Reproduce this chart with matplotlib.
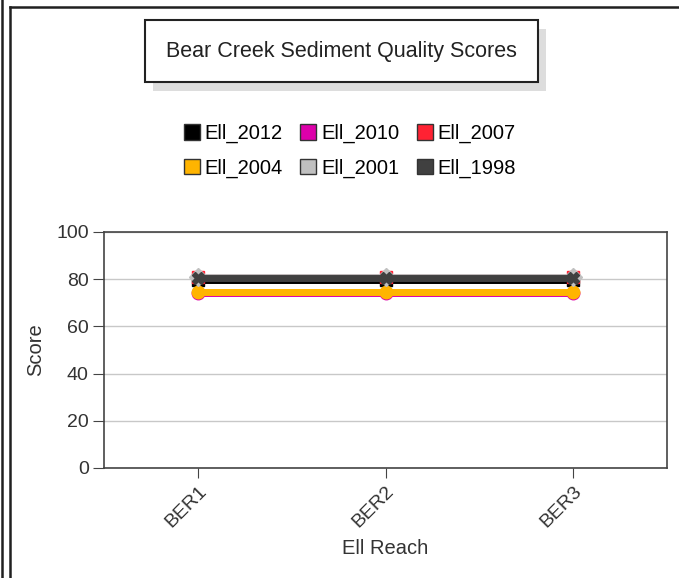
import matplotlib
matplotlib.use("Agg")
import matplotlib.pyplot as plt
from matplotlib.patches import Rectangle, Patch
from matplotlib.lines import Line2D

plt.rcParams['font.family'] = ['Liberation Sans', 'DejaVu Sans']

categories = ["BER1", "BER2", "BER3"]
series_names = ["Ell_2012", "Ell_2010", "Ell_2007", "Ell_2004", "Ell_2001", "Ell_1998"]
series_values = {
    "Ell_2012": [79.5, 79.5, 79.5],
    "Ell_2010": [74, 74, 74],
    "Ell_2007": [81, 81, 81],
    "Ell_2004": [74.5, 74.5, 74.5],
    "Ell_2001": [81, 81, 81],
    "Ell_1998": [80.5, 80.5, 80.5],
}
colors = {
    "Ell_2012": "#000000",
    "Ell_2010": "#DD00AA",
    "Ell_2007": "#FF2233",
    "Ell_2004": "#FFB400",
    "Ell_2001": "#C0C0C0",
    "Ell_1998": "#404040",
}
markers = {
    "Ell_2012": "s",
    "Ell_2010": "o",
    "Ell_2007": "s",
    "Ell_2004": "o",
    "Ell_2001": "D",
    "Ell_1998": "X",
}
yticks = [0, 20, 40, 60, 80, 100]

W, H = 679, 578
fig = plt.figure(figsize=(W / 100, H / 100), dpi=100)

# outer frame lines
fig.add_artist(Line2D([2 / W, 2 / W], [0, 1], color="#202020", lw=1.8))
fig.add_artist(Line2D([10 / W, 10 / W], [0, 1 - 7 / H], color="#202020", lw=1.8))
fig.add_artist(Line2D([10 / W, 1], [1 - 7 / H, 1 - 7 / H], color="#202020", lw=1.8))

ax = fig.add_axes([104 / W, 1 - 468 / H, (667 - 104) / W, (468 - 232) / H])
x = [i + 0.5 for i in range(len(categories))]
for name in series_names:
    ax.plot(x, series_values[name], color=colors[name], lw=5, marker=markers[name],
            markersize=9, markeredgecolor=colors[name], solid_capstyle="butt")

ax.set_xlim(0, len(categories))
ax.set_ylim(0, 100)
ax.set_yticks(yticks)
ax.set_xticks(x)
ax.set_xticklabels(categories, rotation=45, ha="right", rotation_mode="anchor",
                   fontsize=14, color="#333333")
ax.tick_params(axis="y", labelsize=14, labelcolor="#333333", length=8, color="#444444", pad=3)
ax.tick_params(axis="x", length=7, color="#444444")
ax.yaxis.grid(True, color="#C8C8C8", lw=1)
ax.set_axisbelow(True)
for s in ax.spines.values():
    s.set_color("#444444")
    s.set_linewidth(1.2)
ax.set_ylabel("Score", fontsize=14.5, color="#333333", labelpad=8)
ax.set_xlabel("Ell Reach", fontsize=14.5, color="#333333", labelpad=6)

# title box with shadow
fig.add_artist(Rectangle((153 / W, 1 - 91 / H), (538 - 145) / W, (82 - 20) / H,
                         transform=fig.transFigure, facecolor="#DDDDDD", edgecolor="none"))
fig.add_artist(Rectangle((145 / W, 1 - 82 / H), (538 - 145) / W, (82 - 20) / H,
                         transform=fig.transFigure, facecolor="white", edgecolor="#222222", lw=1.5))
fig.text(341.5 / W, 1 - 51 / H, "Bear Creek Sediment Quality Scores", ha="center", va="center",
         fontsize=15.5, color="#222222")

handles = [Patch(facecolor=colors[n], edgecolor="#333333", label=n) for n in series_names]
ncol = 3
nrow = (len(handles) + ncol - 1) // ncol
ordered = [handles[r * ncol + c] for c in range(ncol) for r in range(nrow)]
fig.legend(handles=ordered, ncol=ncol, loc="center", bbox_to_anchor=(350 / W, 1 - 151 / H),
           frameon=False, fontsize=14.5, handlelength=0.8, handleheight=0.8,
           handletextpad=0.25, columnspacing=0.85, labelspacing=0.75)

fig.savefig("out.png", dpi=100)
